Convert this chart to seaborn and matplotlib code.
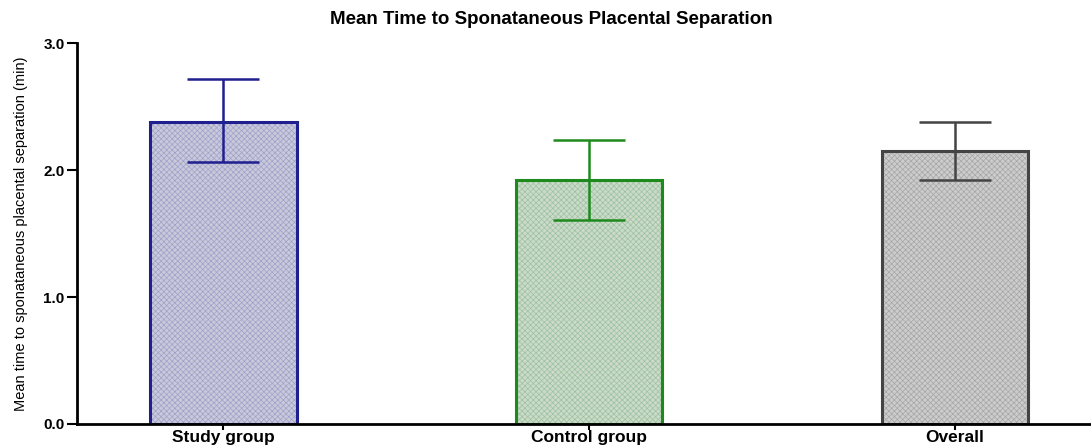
import matplotlib
matplotlib.use("Agg")
import matplotlib.pyplot as plt
import seaborn as sns
import pandas as pd
import numpy as np

# data
groups = ["Study group", "Control group", "Overall"]
means = [2.38, 1.92, 2.15]
err_low = [2.06, 1.61, 1.92]
err_high = [2.72, 2.24, 2.38]

fill_colors = ["#c6c6df", "#c8dcc8", "#cccccc"]
hatch_colors = ["#a0a0c8", "#9cc29c", "#a6a6a6"]
edge_colors = ["#1f1f8f", "#1e8a1e", "#444444"]

df = pd.DataFrame({"group": groups, "mean": means})

sns.set_style("ticks")
plt.rcParams["font.family"] = ["Liberation Sans", "DejaVu Sans"]
plt.rcParams["text.color"] = "black"
plt.rcParams["axes.labelcolor"] = "black"
plt.rcParams["xtick.color"] = "black"
plt.rcParams["ytick.color"] = "black"
plt.rcParams["hatch.linewidth"] = 0.5

fig = plt.figure(figsize=(10.91, 4.47), dpi=100)
ax = fig.add_axes([0.0706, 0.0515, 0.929, 0.852])

# hatched fill
sns.barplot(data=df, x="group", y="mean", hue="group", palette=fill_colors,
            width=0.4, errorbar=None, legend=False, ax=ax)
for p, hc in zip(ax.patches, hatch_colors):
    p.set_hatch("xxxxxx")
    p.set_edgecolor(hc)
    p.set_linewidth(0)

# outline
sns.barplot(data=df, x="group", y="mean", hue="group", palette=edge_colors,
            width=0.4, errorbar=None, legend=False, fill=False, linewidth=2.2, ax=ax)

# error bars
for i, (m, lo, hi, c) in enumerate(zip(means, err_low, err_high, edge_colors)):
    ax.errorbar(i, m, yerr=[[m - lo], [hi - m]], color=c, capsize=26,
                elinewidth=1.8, capthick=1.8, fmt="none")

ax.set_ylim(0, 3.0)
ax.set_xlim(-0.40, 2.37)
ax.set_yticks([0, 1, 2, 3])
ax.set_yticklabels(["0.0", "1.0", "2.0", "3.0"], fontsize=11, fontweight="bold")
ax.set_xticks(range(len(groups)))
ax.set_xticklabels(groups, fontsize=12.5, fontweight="bold")
ax.tick_params(axis="y", length=7, width=1.5, pad=2)
ax.tick_params(axis="x", length=4, width=1.5, pad=0)
ax.set_xlabel("")
ax.set_ylabel("Mean time to sponataneous placental separation (min)",
              fontsize=10.5, labelpad=11)
sns.despine(ax=ax)
for s in ["left", "bottom"]:
    ax.spines[s].set_linewidth(2)
    ax.spines[s].set_color("black")

fig.suptitle("Mean Time to Sponataneous Placental Separation", fontsize=13.5,
             fontweight="bold", x=0.505, y=0.975)

fig.savefig("out.png", dpi=100, facecolor="white")
